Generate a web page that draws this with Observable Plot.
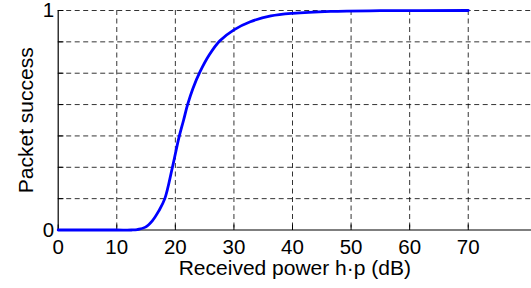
<!DOCTYPE html>
<html>
<head>
<meta charset="utf-8">
<script src="https://cdn.jsdelivr.net/npm/d3@7"></script>
<script src="https://cdn.jsdelivr.net/npm/@observablehq/plot@0.6"></script>
<style>
  html, body { margin: 0; padding: 0; background: #fff; }
  #chart svg { display: block; }
</style>
</head>
<body>
<div id="chart"></div>
<script>
// Curve samples
const powerDb = [0, 10, 12.5, 13.5, 14.9, 16.1, 17.2, 18.2, 19.5, 20.6, 21.4, 22.1, 23.0, 24.2, 25.8, 27.6, 30, 32.8, 36.3, 40, 46.5, 55, 70];
const success = [0, 0, 0, 0.002, 0.013, 0.043, 0.088, 0.143, 0.286, 0.42, 0.5, 0.572, 0.645, 0.72, 0.798, 0.862, 0.912, 0.949, 0.975, 0.987, 0.996, 0.999, 1.0];

// Axes / grid
const xTicks = [0, 10, 20, 30, 40, 50, 60, 70];
const xTickLabels = ["0", "10", "20", "30", "40", "50", "60", "70"];
const yGrid = [0, 1/7, 2/7, 3/7, 4/7, 5/7, 6/7, 1];
const yTickValues = [0, 1];
const yTickLabels = ["0", "1"];
const xLabel = "Received power h·p (dB)";
const yLabel = "Packet success";

const data = powerDb.map((x, i) => ({x, y: success[i]}));
const xt = xTicks.map((v, i) => ({v, label: xTickLabels[i]}));
const yt = yTickValues.map((v, i) => ({v, label: yTickLabels[i]}));

const font = "Liberation Sans, Arial, Helvetica, sans-serif";
const dash = "5,3.5";

const chart = Plot.plot({
  width: 531,
  height: 288,
  marginLeft: 57.7,
  marginRight: 0,
  marginTop: 10,
  marginBottom: 58.5,
  style: {fontFamily: font, background: "#fff", color: "#000", overflow: "visible"},
  x: {domain: [0, 80.8], axis: null},
  y: {domain: [0, 1], axis: null},
  marks: [
    Plot.ruleX(xTicks.filter(d => d > 0), {stroke: "#000", strokeOpacity: 0.8, strokeDasharray: dash, strokeWidth: 1}),
    Plot.ruleY(yGrid.filter(d => d > 0), {stroke: "#000", strokeOpacity: 0.8, strokeDasharray: dash, strokeWidth: 1}),
    // inner ticks
    Plot.link(xTicks, {x1: d => d, x2: d => d, y1: 0, y2: 0.025, stroke: "#000", strokeWidth: 1}),
    Plot.link(yGrid, {x1: 0, x2: 0.9, y1: d => d, y2: d => d, stroke: "#000", strokeWidth: 1}),
    // axis lines
    Plot.ruleY([0], {stroke: "#000", strokeWidth: 1.2}),
    Plot.ruleX([0], {stroke: "#000", strokeWidth: 1.2}),
    // curve
    Plot.line(data, {x: "x", y: "y", stroke: "#0000ff", strokeWidth: 2.8, curve: "catmull-rom"}),
    // tick labels
    Plot.text(xt, {x: "v", text: "label", frameAnchor: "bottom", lineAnchor: "top", dy: 9.5, fontSize: 20.5, fill: "#000"}),
    Plot.text(yt, {y: "v", text: "label", frameAnchor: "left", textAnchor: "end", lineAnchor: "middle", dx: -4, fontSize: 20.5, fill: "#000"}),
    // axis labels
    Plot.text([xLabel], {text: d => d, frameAnchor: "bottom", lineAnchor: "middle", dy: 38.5, fontSize: 21, fill: "#000"}),
    Plot.text([yLabel], {text: d => d, frameAnchor: "left", rotate: -90, textAnchor: "middle", lineAnchor: "middle", dx: -31.5, fontSize: 21, fill: "#000"})
  ]
});
document.getElementById("chart").appendChild(chart);
</script>
</body>
</html>
